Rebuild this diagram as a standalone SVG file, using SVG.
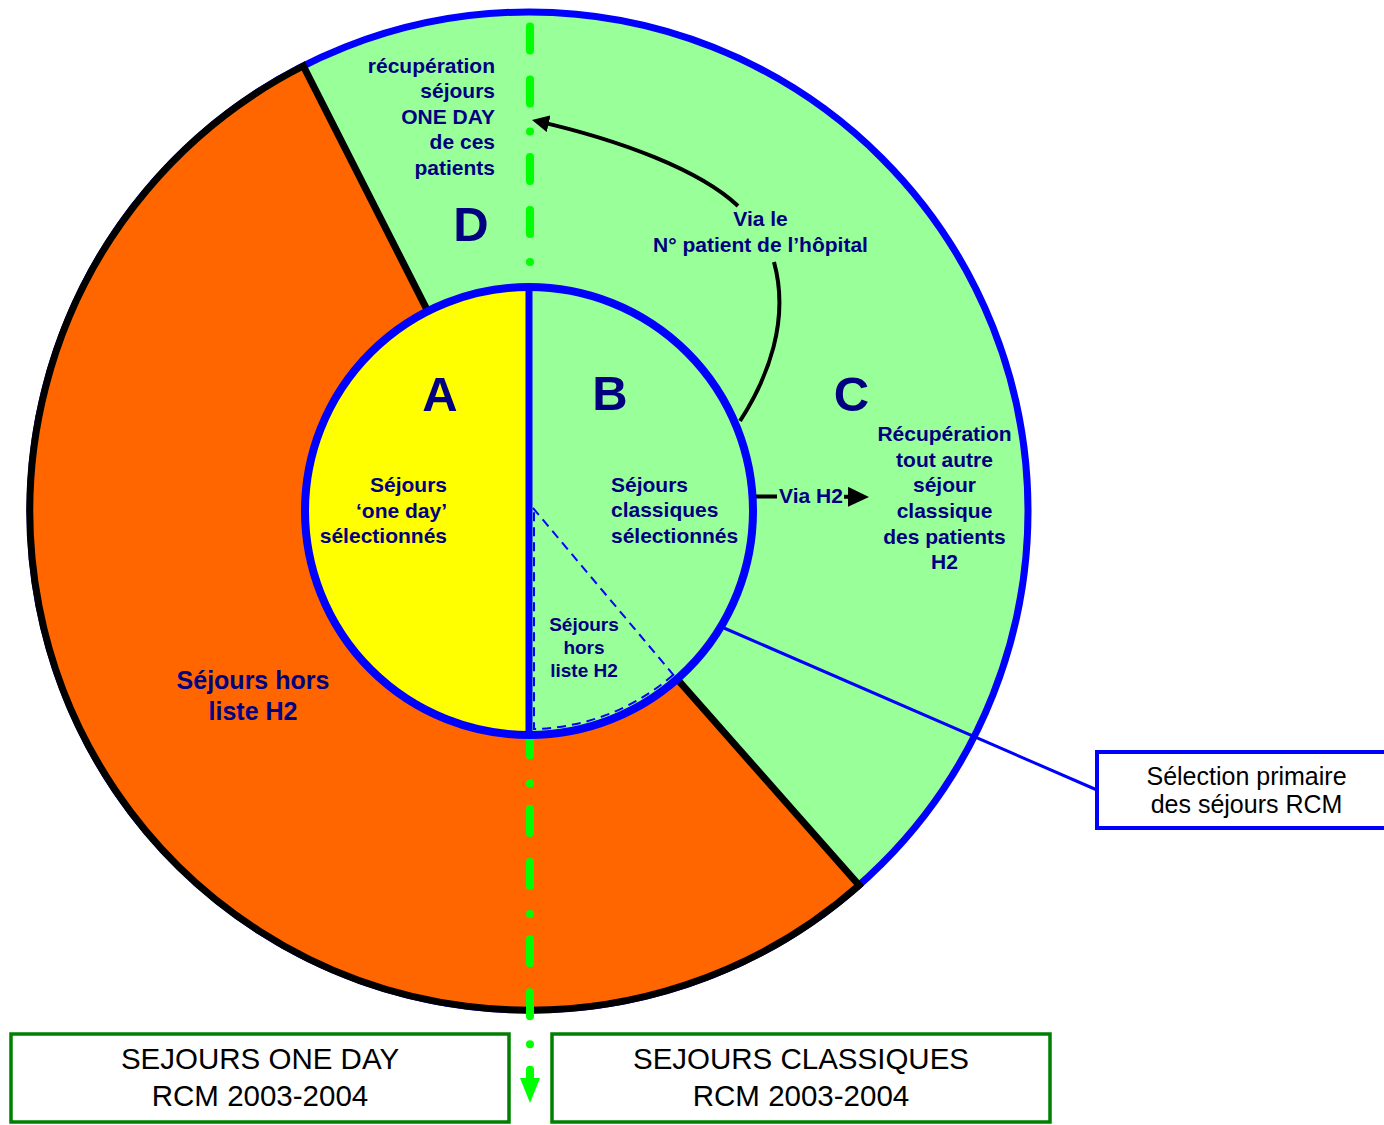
<svg xmlns="http://www.w3.org/2000/svg" width="1384" height="1125" viewBox="0 0 1384 1125">
  <defs>
    <style>
      .t { font-family: "Liberation Sans", Arial, sans-serif; font-weight: bold; fill: #000080; font-size: 21px; }
      .big { font-size: 49px; }
      .sm { font-size: 19px; }
      .lg { font-size: 25px; }
      .box { font-family: "Liberation Sans", Arial, sans-serif; fill: #000000; }
      .boxBig { font-size: 29.5px; }
      .boxSel { font-size: 25px; }
      .green { fill: #99FF99; }
      .blueStroke { stroke: #0000FF; fill: none; }
      .conn { fill: none; stroke: #000000; stroke-width: 4; }
    </style>
    <marker id="arrowCurve" markerUnits="userSpaceOnUse" viewBox="0 0 17 17" markerWidth="17" markerHeight="17" refX="12" refY="8.5" orient="auto">
      <path d="M0,0 L17,8.5 L0,17 z" fill="#000000"/>
    </marker>
    <marker id="arrowH2" markerUnits="userSpaceOnUse" viewBox="0 0 21 20" markerWidth="21" markerHeight="20" refX="16" refY="10" orient="auto">
      <path d="M0,0 L21,10 L0,20 z" fill="#000000"/>
    </marker>
    <marker id="arrowGreen" markerUnits="userSpaceOnUse" viewBox="0 0 25 20" markerWidth="25" markerHeight="20" refX="0" refY="10" orient="auto">
      <path d="M0,0 L25,10 L0,20 z" fill="#00FF00"/>
    </marker>
  </defs>

  <!-- Outer ring: C/D (green) and orange sector -->
  <g id="outer-ring">
    <circle cx="529" cy="511" r="499" class="green" stroke="#0000FF" stroke-width="7"/>
    <path d="M529,511 L303.3,66 A499,499 0 1 0 859,885.3 Z" fill="#FF6600"/>
    <path d="M427.7,311.2 L303.3,66 A499,499 0 1 0 859,885.3 L677.1,679" fill="none" stroke="#000000" stroke-width="7" stroke-linejoin="miter"/>
  </g>

  <!-- Connectors -->
  <g id="connectors">
    <path id="split-line" d="M530,26.5 L530,1078" fill="none" stroke="#00FF00" stroke-width="8" stroke-linecap="round" stroke-dasharray="24 29 24 28 0 25.4" marker-end="url(#arrowGreen)"/>
    <path id="via-hopital" class="conn" d="M740,421 C768,378 790,320 774,262 M738,206 C700,170 620,140 536.9,121.1" marker-end="url(#arrowCurve)"/>
    <path id="via-h2" class="conn" d="M755,496.5 L777,496.5 M844,496.8 L864,497" marker-end="url(#arrowH2)"/>
    <line id="leader-selection" x1="724" y1="628" x2="1097" y2="790" stroke="#0000FF" stroke-width="3"/>
    <text class="t" text-anchor="middle"><tspan x="760.5" y="226">Via le</tspan><tspan x="760.5" y="252">N° patient de l’hôpital</tspan></text>
    <text class="t" x="779" y="503">Via H2</text>
  </g>

  <!-- Inner circle: A (one day) and B (classiques) -->
  <g id="inner-circle">
    <path d="M529,287 A224,224 0 0 0 529,735 Z" fill="#FFFF00"/>
    <path d="M529,287 A224,224 0 0 1 529,735 Z" class="green"/>
    <circle cx="529" cy="511" r="224" class="blueStroke" stroke-width="8"/>
    <line x1="529" y1="287" x2="529" y2="735" stroke="#0000FF" stroke-width="7"/>
    <path d="M533,508 L676,678 M673,675 A218,218 0 0 1 534,729 L534,508" class="blueStroke" stroke-width="2" stroke-dasharray="9 6"/>
  </g>

  <g id="node-D">
    <text class="t" text-anchor="end"><tspan x="495" y="72.5">récupération</tspan><tspan x="495" y="98">séjours</tspan><tspan x="495" y="123.5">ONE DAY</tspan><tspan x="495" y="149">de ces</tspan><tspan x="495" y="174.5">patients</tspan></text>
    <text class="t big" x="471" y="241" text-anchor="middle">D</text>
  </g>

  <g id="node-A">
    <text class="t big" x="440" y="411" text-anchor="middle">A</text>
    <text class="t" text-anchor="end"><tspan x="447" y="492">Séjours</tspan><tspan x="447" y="518">‘one day’</tspan><tspan x="447" y="543">sélectionnés</tspan></text>
  </g>

  <g id="node-B">
    <text class="t big" x="610" y="410" text-anchor="middle">B</text>
    <text class="t"><tspan x="611" y="491.5">Séjours</tspan><tspan x="611" y="517">classiques</tspan><tspan x="611" y="542.5">sélectionnés</tspan></text>
  </g>

  <g id="node-B-hors">
    <text class="t sm" text-anchor="middle"><tspan x="584" y="631">Séjours</tspan><tspan x="584" y="654">hors</tspan><tspan x="584" y="677">liste H2</tspan></text>
  </g>

  <g id="node-C">
    <text class="t big" x="851.5" y="411" text-anchor="middle">C</text>
    <text class="t" text-anchor="middle"><tspan x="944.5" y="441">Récupération</tspan><tspan x="944.5" y="467">tout autre</tspan><tspan x="944.5" y="492">séjour</tspan><tspan x="944.5" y="518">classique</tspan><tspan x="944.5" y="544">des patients</tspan><tspan x="944.5" y="569">H2</tspan></text>
  </g>

  <g id="node-hors-liste">
    <text class="t lg" text-anchor="middle"><tspan x="253" y="689">Séjours hors</tspan><tspan x="253" y="720">liste H2</tspan></text>
  </g>

  <g id="box-selection">
    <rect x="1097" y="752" width="300" height="76" fill="#FFFFFF" stroke="#0000FF" stroke-width="4"/>
    <text class="box boxSel" text-anchor="middle"><tspan x="1246.5" y="785">Sélection primaire</tspan><tspan x="1246.5" y="813">des séjours RCM</tspan></text>
  </g>

  <g id="box-one-day">
    <rect x="11" y="1034" width="498" height="88" fill="#FFFFFF" stroke="#008000" stroke-width="3.5"/>
    <text class="box boxBig" text-anchor="middle"><tspan x="260" y="1069">SEJOURS ONE DAY</tspan><tspan x="260" y="1106">RCM 2003-2004</tspan></text>
  </g>

  <g id="box-classiques">
    <rect x="552" y="1034" width="498" height="88" fill="#FFFFFF" stroke="#008000" stroke-width="3.5"/>
    <text class="box boxBig" text-anchor="middle"><tspan x="801" y="1069">SEJOURS CLASSIQUES</tspan><tspan x="801" y="1106">RCM 2003-2004</tspan></text>
  </g>
</svg>
